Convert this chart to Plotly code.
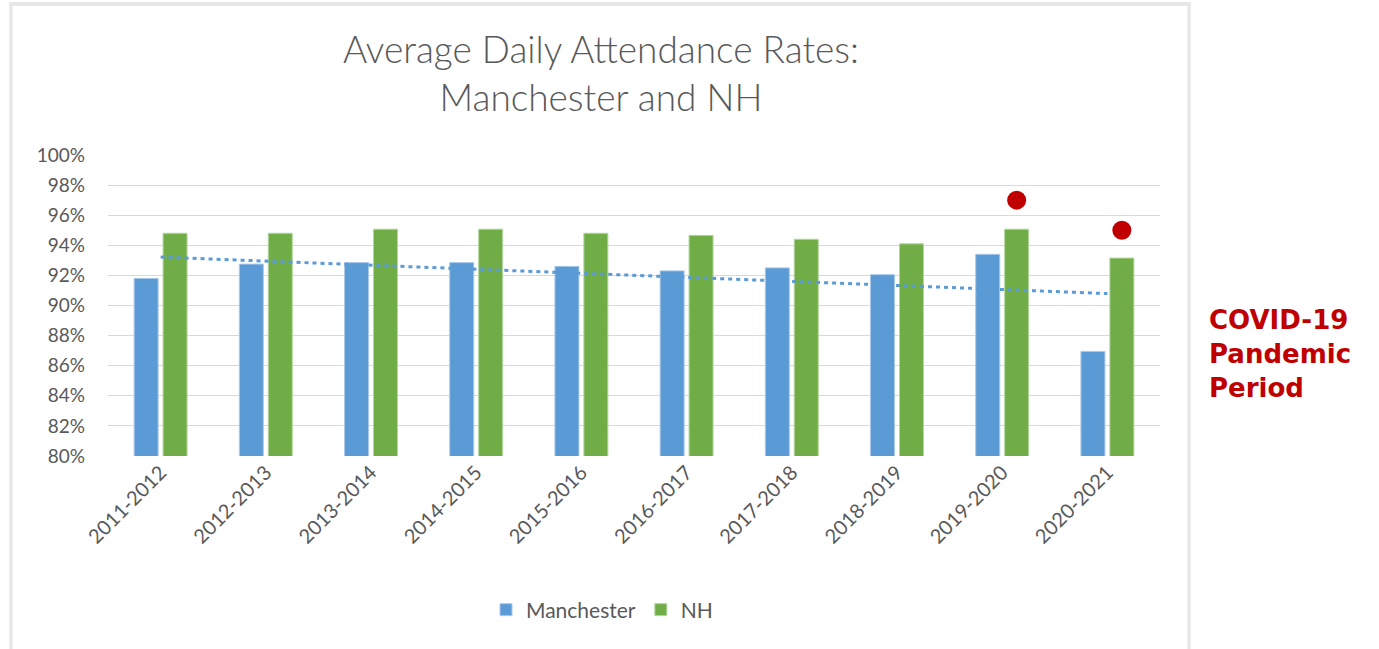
import numpy as np
import plotly.graph_objects as go

# ---- data ----
seasons = ["2011-2012", "2012-2013", "2013-2014", "2014-2015", "2015-2016",
           "2016-2017", "2017-2018", "2018-2019", "2019-2020", "2020-2021"]
manchester = [91.8, 92.75, 92.85, 92.85, 92.6, 92.3, 92.5, 92.05, 93.4, 86.95]
nh = [94.8, 94.8, 95.07, 95.07, 94.8, 94.66, 94.4, 94.1, 95.07, 93.15]
covid_seasons = ["2019-2020", "2020-2021"]
covid_marker_y = [97.0, 95.0]
y_ticks = [80, 82, 84, 86, 88, 90, 92, 94, 96, 98, 100]
y_tick_labels = [f"{v}%" for v in y_ticks]

# ---- layout constants ----
W, H = 1379, 649
L, R, T, B = 108, W - 1160, 155, H - 456
PW, PH = W - L - R, H - T - B
BARGAP, BARGROUPGAP = 0.45, 0.17
nh_offset = (1 - BARGAP) / 4  # center of 2nd bar in a 2-bar group (category units)

def px_x(px):
    return (px - L) / PW

def px_y(py):
    return (H - B - py) / PH

GRAY = "#595959"
BLUE = "#5B9BD5"
GREEN = "#70AD47"
RED = "#C00000"

idx = np.arange(len(seasons))
slope, intercept = np.polyfit(idx, manchester, 1)
trend = slope * idx + intercept

fig = go.Figure()
fig.add_trace(go.Bar(x=seasons, y=manchester, name="Manchester",
                     marker=dict(color=BLUE, line=dict(color="#A9C8EA", width=1))))
fig.add_trace(go.Bar(x=seasons, y=nh, name="NH",
                     marker=dict(color=GREEN, line=dict(color="#B5D6A0", width=1))))
fig.add_trace(go.Scatter(x=seasons, y=trend, mode="lines", showlegend=False,
                         line=dict(color=BLUE, width=3, dash="4px,4px"),
                         hoverinfo="skip"))
covid_idx = [seasons.index(s) + nh_offset for s in covid_seasons]
fig.add_trace(go.Scatter(x=covid_idx, y=covid_marker_y, xaxis="x2", mode="markers",
                         showlegend=False,
                         marker=dict(color=RED, size=19, line=dict(width=0))))

fig.update_layout(
    width=W, height=H,
    margin=dict(l=L, r=R, t=T, b=B, autoexpand=False),
    paper_bgcolor="white", plot_bgcolor="white",
    barmode="group", bargap=BARGAP, bargroupgap=BARGROUPGAP,
    font=dict(family="Lato", color=GRAY, size=18),
    showlegend=True,
    legend=dict(orientation="h", x=px_x(602), xanchor="center",
                y=px_y(610), yanchor="middle", font=dict(size=21, color=GRAY),
                traceorder="normal", itemwidth=30),
    xaxis=dict(type="category", showgrid=False, showline=False, ticks="",
               tickangle=-45, tickfont=dict(size=20, color=GRAY),
               range=[-0.5, len(seasons) - 0.5]),
    xaxis2=dict(overlaying="x", range=[-0.5, len(seasons) - 0.5], visible=False),
    yaxis=dict(range=[80, 100], tickmode="array", tickvals=y_ticks,
               ticktext=y_tick_labels,
               showgrid=True, gridcolor="#D9D9D9", gridwidth=1,
               zeroline=False, showline=False, ticks="",
               tickfont=dict(size=19, color=GRAY), ticklabelstandoff=22),
)

fig.add_annotation(text="Average Daily Attendance Rates:<br>Manchester and NH",
                   xref="paper", yref="paper", x=px_x(601), y=px_y(72),
                   xanchor="center", yanchor="middle", showarrow=False,
                   font=dict(family="Lato", size=37, color=GRAY, weight=300))

fig.add_annotation(text="<b>COVID-19<br>Pandemic<br>Period</b>",
                   xref="paper", yref="paper", x=px_x(1207), y=px_y(354),
                   xanchor="left", yanchor="middle", align="left", showarrow=False,
                   font=dict(family="DejaVu Sans", size=26, color=RED))

# chart frame
frame = "#E6E6E6"
fig.add_shape(type="line", xref="paper", yref="paper", x0=px_x(9), x1=px_x(1191),
              y0=px_y(4), y1=px_y(4), line=dict(color=frame, width=4))
fig.add_shape(type="line", xref="paper", yref="paper", x0=px_x(11), x1=px_x(11),
              y0=px_y(4), y1=px_y(660), line=dict(color=frame, width=3))
fig.add_shape(type="line", xref="paper", yref="paper", x0=px_x(1189), x1=px_x(1189),
              y0=px_y(4), y1=px_y(660), line=dict(color=frame, width=3))

fig.write_html("out.html", config={"displayModeBar": False},
               post_script="document.body.style.margin='0';document.body.style.overflow='hidden';")
